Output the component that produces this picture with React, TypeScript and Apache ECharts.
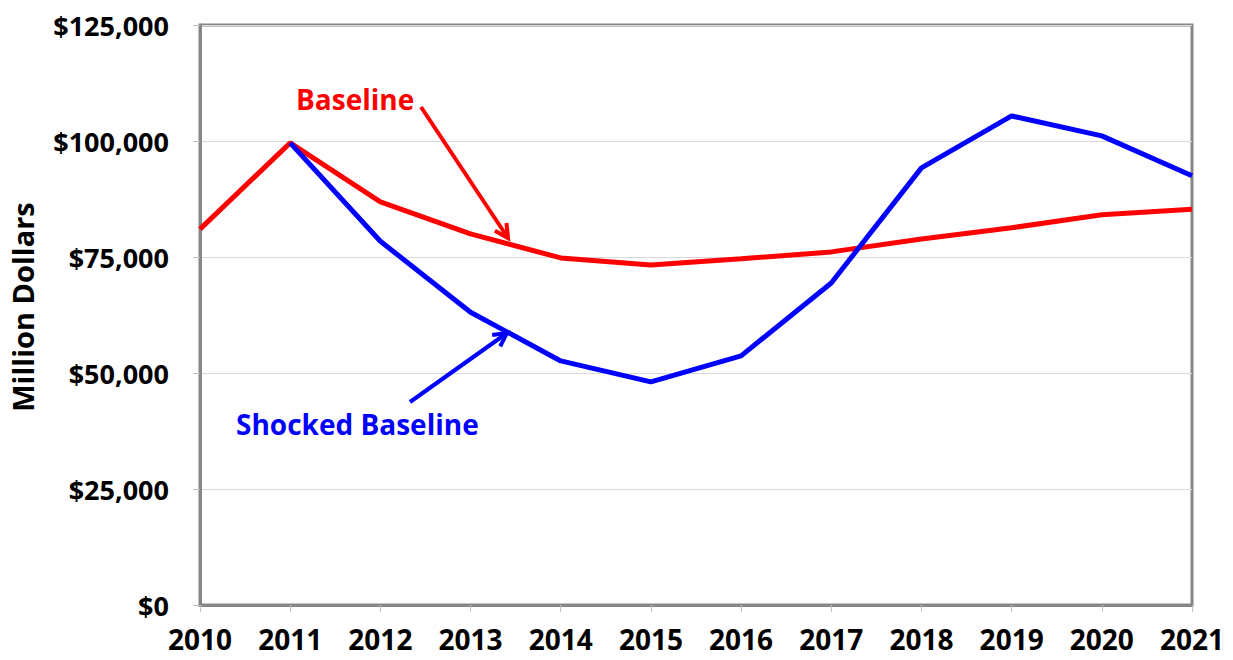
import React, { useEffect, useRef } from "react";
import * as echarts from "echarts";

const years = ["2010", "2011", "2012", "2013", "2014", "2015", "2016", "2017", "2018", "2019", "2020", "2021"];
const baseline = [81000, 99600, 86900, 80000, 74800, 73300, 74600, 76100, 78900, 81300, 84100, 85300];
const shocked = [null, 99600, 78400, 63100, 52600, 48100, 53700, 69400, 94200, 105400, 101100, 92500];
const yTicks = [0, 25000, 50000, 75000, 100000, 125000];

function arrow(x1: number, y1: number, x2: number, y2: number, color: string) {
  const ang = Math.atan2(y2 - y1, x2 - x1);
  const len = 15;
  const spread = Math.PI / 6.5;
  const p1 = [x2 - len * Math.cos(ang - spread), y2 - len * Math.sin(ang - spread)];
  const p2 = [x2 - len * Math.cos(ang + spread), y2 - len * Math.sin(ang + spread)];
  return [
    { type: "line", shape: { x1, y1, x2, y2 }, style: { stroke: color, lineWidth: 4 }, z: 100 },
    { type: "polyline", shape: { points: [p1, [x2, y2], p2] }, style: { stroke: color, lineWidth: 4, fill: null }, z: 100 },
  ];
}

export default function App() {
  const ref = useRef<HTMLDivElement>(null);
  useEffect(() => {
    const chart = echarts.init(ref.current!, null, { renderer: "svg" });
    chart.setOption({
      animation: false,
      backgroundColor: "#ffffff",
      grid: {
        left: 200, right: 41, top: 25, bottom: 55, show: true,
        borderColor: "#868686", borderWidth: 3, backgroundColor: "transparent",
        containLabel: false, outerBoundsMode: "none",
      },
      xAxis: {
        type: "category",
        data: years,
        boundaryGap: false,
        axisLine: { lineStyle: { color: "#868686", width: 3 } },
        axisTick: { show: true, length: 7, lineStyle: { color: "#bfbfbf", width: 1 } },
        axisLabel: { color: "#000", fontFamily: "Open Sans", fontWeight: "bold", fontSize: 28, margin: 20 },
        splitLine: { show: false },
      },
      yAxis: {
        type: "value",
        min: yTicks[0],
        max: yTicks[yTicks.length - 1],
        interval: 25000,
        axisLine: { show: true, lineStyle: { color: "#868686", width: 3 } },
        axisTick: { show: true, length: 7, lineStyle: { color: "#bfbfbf", width: 1 } },
        axisLabel: {
          color: "#000", fontFamily: "Open Sans", fontWeight: "bold", fontSize: 27, margin: 31,
          formatter: (v: number) => "$" + v.toLocaleString("en-US"),
        },
        splitLine: { show: true, lineStyle: { color: "#d9d9d9", width: 1 } },
      },
      series: [
        { name: "Baseline", type: "line", data: baseline, symbol: "none", lineStyle: { color: "#ff0000", width: 5 }, z: 2 },
        { name: "Shocked Baseline", type: "line", data: shocked, symbol: "none", lineStyle: { color: "#0000ff", width: 5 }, z: 3 },
      ],
      graphic: [
        {
          type: "text", x: 22, y: 307, rotation: Math.PI / 2,
          style: { text: "Million Dollars", fill: "#000", font: "bold 29px 'Open Sans'", textAlign: "center", textVerticalAlign: "middle" },
          z: 100,
        },
        { type: "text", x: 296, y: 99, style: { text: "Baseline", fill: "#ff0000", font: "bold 28px 'Open Sans'", textVerticalAlign: "middle" }, z: 100 },
        { type: "text", x: 236, y: 424, style: { text: "Shocked Baseline", fill: "#0000ff", font: "bold 28px 'Open Sans'", textVerticalAlign: "middle" }, z: 100 },
        ...arrow(421, 107, 508, 238, "#ff0000"),
        ...arrow(410, 402, 507, 333, "#0000ff"),
      ],
    });
    return () => chart.dispose();
  }, []);
  return <div ref={ref} style={{ width: 1233, height: 660, position: "absolute", left: 0, top: 0 }} />;
}
